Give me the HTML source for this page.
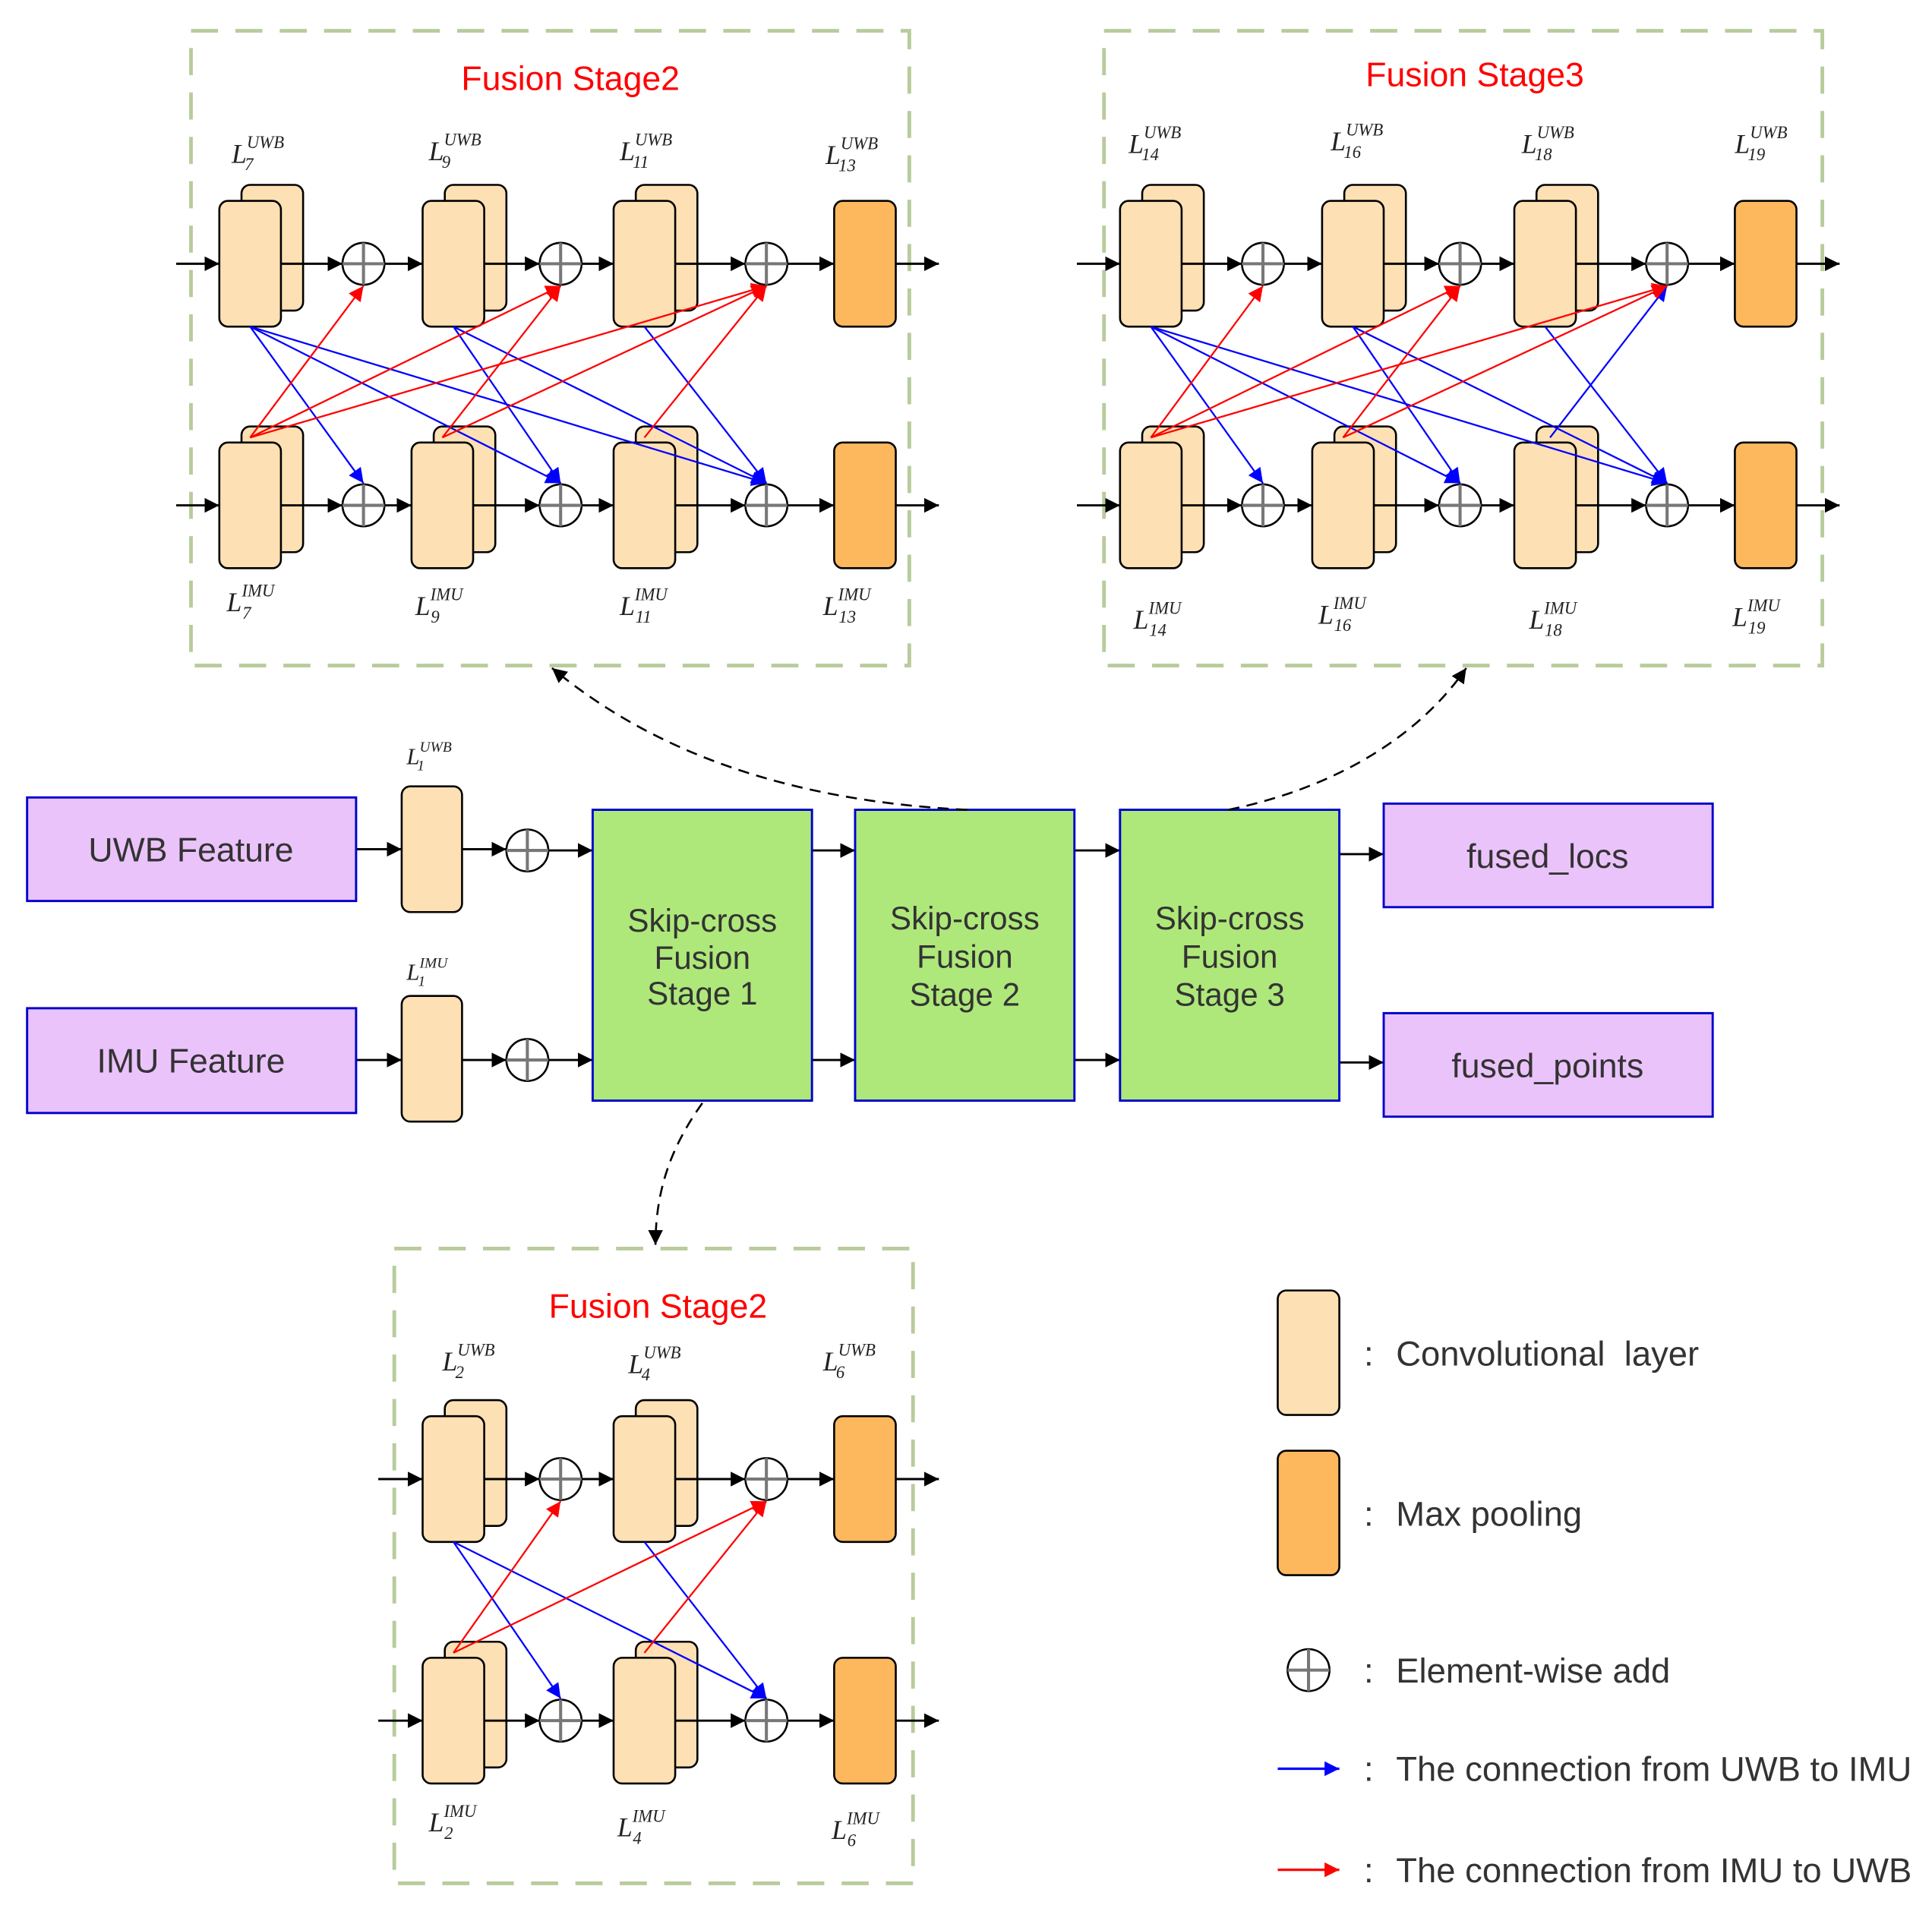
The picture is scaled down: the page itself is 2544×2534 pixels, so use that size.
<!DOCTYPE html>
<html><head><meta charset="utf-8"><style>
html,body{margin:0;padding:0;background:#fff;}
svg{display:block;}
text{font-family:"Liberation Sans",sans-serif;}
.L{font-family:"Liberation Serif",serif;font-style:italic;fill:#222;}
</style></head><body>
<svg width="2544" height="2534" viewBox="0 0 1568 1561" preserveAspectRatio="none" xmlns="http://www.w3.org/2000/svg">
<defs>
<marker id="mk" viewBox="0 0 10 10" refX="10" refY="5" markerWidth="12" markerHeight="14" markerUnits="userSpaceOnUse" orient="auto"><path d="M0,0L10,5L0,10z" fill="#000"/></marker>
<marker id="mb" viewBox="0 0 10 10" refX="10" refY="5" markerWidth="14" markerHeight="12" markerUnits="userSpaceOnUse" orient="auto"><path d="M0,0L10,5L0,10z" fill="#00f"/></marker>
<marker id="mr" viewBox="0 0 10 10" refX="10" refY="5" markerWidth="14" markerHeight="12" markerUnits="userSpaceOnUse" orient="auto"><path d="M0,0L10,5L0,10z" fill="#f00"/></marker>
<g id="conv"><rect x="18" y="-13" width="50" height="102" rx="7" fill="#fde0b3" stroke="#000" stroke-width="1.6"/><rect x="0" y="0" width="50" height="102" rx="7" fill="#fde0b3" stroke="#000" stroke-width="1.6"/></g>
<g id="pool"><rect x="0" y="0" width="50" height="102" rx="7" fill="#fdb75d" stroke="#000" stroke-width="1.6"/></g>
<g id="plus"><circle cx="0" cy="0" r="17" fill="#fff" stroke="#000" stroke-width="1.6"/><path d="M-17,0H17M0,-17V17" stroke="#777" stroke-width="2.5"/></g>
</defs>

<g fill="none" stroke="#b8cc9c" stroke-width="3" stroke-dasharray="22,14">
<rect x="155" y="25" width="583" height="515"/>
<rect x="896" y="25" width="583" height="515"/>
<rect x="320" y="1013" width="421" height="515"/>
</g>
<text x="463" y="73" font-size="27.5" fill="#f00" text-anchor="middle">Fusion Stage2</text>
<text x="1197" y="70" font-size="27.5" fill="#f00" text-anchor="middle">Fusion Stage3</text>
<text x="534" y="1069" font-size="27.5" fill="#f00" text-anchor="middle">Fusion Stage2</text>

<!-- ===== Top-left stage ===== -->
<g stroke="#000" stroke-width="1.8" marker-end="url(#mk)">
<line x1="143" y1="214" x2="178" y2="214"/><line x1="228" y1="214" x2="278" y2="214"/><line x1="312" y1="214" x2="343" y2="214"/><line x1="393" y1="214" x2="438" y2="214"/><line x1="472" y1="214" x2="498" y2="214"/><line x1="548" y1="214" x2="605" y2="214"/><line x1="639" y1="214" x2="677" y2="214"/><line x1="727" y1="214" x2="762" y2="214"/>
<line x1="143" y1="410" x2="178" y2="410"/><line x1="228" y1="410" x2="278" y2="410"/><line x1="312" y1="410" x2="334" y2="410"/><line x1="384" y1="410" x2="438" y2="410"/><line x1="472" y1="410" x2="498" y2="410"/><line x1="548" y1="410" x2="605" y2="410"/><line x1="639" y1="410" x2="677" y2="410"/><line x1="727" y1="410" x2="762" y2="410"/>
</g>
<use href="#conv" x="178" y="163"/><use href="#conv" x="343" y="163"/><use href="#conv" x="498" y="163"/><use href="#pool" x="677" y="163"/>
<use href="#conv" x="178" y="359"/><use href="#conv" x="334" y="359"/><use href="#conv" x="498" y="359"/><use href="#pool" x="677" y="359"/>
<g stroke="#000" stroke-width="1.8"><line x1="228" y1="214" x2="246" y2="214"/><line x1="393" y1="214" x2="411" y2="214"/><line x1="548" y1="214" x2="566" y2="214"/><line x1="228" y1="410" x2="246" y2="410"/><line x1="384" y1="410" x2="402" y2="410"/><line x1="548" y1="410" x2="566" y2="410"/></g>
<use href="#plus" x="295" y="214"/><use href="#plus" x="455" y="214"/><use href="#plus" x="622" y="214"/>
<use href="#plus" x="295" y="410"/><use href="#plus" x="455" y="410"/><use href="#plus" x="622" y="410"/>
<g stroke="#00f" stroke-width="1.4" marker-end="url(#mb)">
<line x1="203" y1="265" x2="295" y2="392"/><line x1="203" y1="265" x2="455" y2="392"/><line x1="203" y1="265" x2="622" y2="392"/>
<line x1="368" y1="265" x2="455" y2="392"/><line x1="368" y1="265" x2="622" y2="392"/><line x1="523" y1="265" x2="622" y2="392"/>
</g>
<g stroke="#f00" stroke-width="1.4" marker-end="url(#mr)">
<line x1="203" y1="355" x2="295" y2="232"/><line x1="203" y1="355" x2="455" y2="232"/><line x1="203" y1="355" x2="622" y2="232"/>
<line x1="359" y1="355" x2="455" y2="232"/><line x1="359" y1="355" x2="622" y2="232"/><line x1="523" y1="355" x2="622" y2="232"/>
</g>

<!-- ===== Top-right stage ===== -->
<g stroke="#000" stroke-width="1.8" marker-end="url(#mk)">
<line x1="874" y1="214" x2="909" y2="214"/><line x1="959" y1="214" x2="1008" y2="214"/><line x1="1042" y1="214" x2="1073" y2="214"/><line x1="1123" y1="214" x2="1168" y2="214"/><line x1="1202" y1="214" x2="1229" y2="214"/><line x1="1279" y1="214" x2="1336" y2="214"/><line x1="1370" y1="214" x2="1408" y2="214"/><line x1="1458" y1="214" x2="1493" y2="214"/>
<line x1="874" y1="410" x2="909" y2="410"/><line x1="959" y1="410" x2="1008" y2="410"/><line x1="1042" y1="410" x2="1065" y2="410"/><line x1="1115" y1="410" x2="1168" y2="410"/><line x1="1202" y1="410" x2="1229" y2="410"/><line x1="1279" y1="410" x2="1336" y2="410"/><line x1="1370" y1="410" x2="1408" y2="410"/><line x1="1458" y1="410" x2="1493" y2="410"/>
</g>
<use href="#conv" x="909" y="163"/><use href="#conv" x="1073" y="163"/><use href="#conv" x="1229" y="163"/><use href="#pool" x="1408" y="163"/>
<use href="#conv" x="909" y="359"/><use href="#conv" x="1065" y="359"/><use href="#conv" x="1229" y="359"/><use href="#pool" x="1408" y="359"/>
<g stroke="#000" stroke-width="1.8"><line x1="959" y1="214" x2="977" y2="214"/><line x1="1123" y1="214" x2="1141" y2="214"/><line x1="1279" y1="214" x2="1297" y2="214"/><line x1="959" y1="410" x2="977" y2="410"/><line x1="1115" y1="410" x2="1133" y2="410"/><line x1="1279" y1="410" x2="1297" y2="410"/></g>
<use href="#plus" x="1025" y="214"/><use href="#plus" x="1185" y="214"/><use href="#plus" x="1353" y="214"/>
<use href="#plus" x="1025" y="410"/><use href="#plus" x="1185" y="410"/><use href="#plus" x="1353" y="410"/>
<g stroke="#00f" stroke-width="1.4" marker-end="url(#mb)">
<line x1="934" y1="265" x2="1025" y2="392"/><line x1="934" y1="265" x2="1185" y2="392"/><line x1="934" y1="265" x2="1353" y2="392"/>
<line x1="1098" y1="265" x2="1185" y2="392"/><line x1="1098" y1="265" x2="1353" y2="392"/><line x1="1254" y1="265" x2="1353" y2="392"/>
<line x1="1258" y1="355" x2="1353" y2="232"/>
</g>
<g stroke="#f00" stroke-width="1.4" marker-end="url(#mr)">
<line x1="934" y1="355" x2="1025" y2="232"/><line x1="934" y1="355" x2="1185" y2="232"/><line x1="934" y1="355" x2="1353" y2="232"/>
<line x1="1090" y1="355" x2="1185" y2="232"/><line x1="1090" y1="355" x2="1353" y2="232"/>
</g>

<!-- ===== Bottom stage ===== -->
<g stroke="#000" stroke-width="1.8" marker-end="url(#mk)">
<line x1="307" y1="1200" x2="343" y2="1200"/><line x1="393" y1="1200" x2="438" y2="1200"/><line x1="472" y1="1200" x2="498" y2="1200"/><line x1="548" y1="1200" x2="605" y2="1200"/><line x1="639" y1="1200" x2="677" y2="1200"/><line x1="727" y1="1200" x2="762" y2="1200"/>
<line x1="307" y1="1396" x2="343" y2="1396"/><line x1="393" y1="1396" x2="438" y2="1396"/><line x1="472" y1="1396" x2="498" y2="1396"/><line x1="548" y1="1396" x2="605" y2="1396"/><line x1="639" y1="1396" x2="677" y2="1396"/><line x1="727" y1="1396" x2="762" y2="1396"/>
</g>
<use href="#conv" x="343" y="1149"/><use href="#conv" x="498" y="1149"/><use href="#pool" x="677" y="1149"/>
<use href="#conv" x="343" y="1345"/><use href="#conv" x="498" y="1345"/><use href="#pool" x="677" y="1345"/>
<g stroke="#000" stroke-width="1.8"><line x1="393" y1="1200" x2="411" y2="1200"/><line x1="548" y1="1200" x2="566" y2="1200"/><line x1="393" y1="1396" x2="411" y2="1396"/><line x1="548" y1="1396" x2="566" y2="1396"/></g>
<use href="#plus" x="455" y="1200"/><use href="#plus" x="622" y="1200"/>
<use href="#plus" x="455" y="1396"/><use href="#plus" x="622" y="1396"/>
<g stroke="#00f" stroke-width="1.4" marker-end="url(#mb)">
<line x1="368" y1="1251" x2="455" y2="1378"/><line x1="368" y1="1251" x2="622" y2="1378"/><line x1="523" y1="1251" x2="622" y2="1378"/>
</g>
<g stroke="#f00" stroke-width="1.4" marker-end="url(#mr)">
<line x1="368" y1="1341" x2="455" y2="1218"/><line x1="368" y1="1341" x2="622" y2="1218"/><line x1="523" y1="1341" x2="622" y2="1218"/>
</g>

<!-- Labels -->
<g class="L" font-size="22">
<text x="188" y="132" class="L">L<tspan font-size="14" dy="-12">UWB</tspan><tspan font-size="14" dx="-32" dy="18">7</tspan></text>
<text x="348" y="130" class="L">L<tspan font-size="14" dy="-12">UWB</tspan><tspan font-size="14" dx="-32" dy="18">9</tspan></text>
<text x="503" y="130" class="L">L<tspan font-size="14" dy="-12">UWB</tspan><tspan font-size="14" dx="-32" dy="18">11</tspan></text>
<text x="670" y="133" class="L">L<tspan font-size="14" dy="-12">UWB</tspan><tspan font-size="14" dx="-32" dy="18">13</tspan></text>
<text x="184" y="496" class="L">L<tspan font-size="14" dy="-12">IMU</tspan><tspan font-size="14" dx="-26" dy="18">7</tspan></text>
<text x="337" y="499" class="L">L<tspan font-size="14" dy="-12">IMU</tspan><tspan font-size="14" dx="-26" dy="18">9</tspan></text>
<text x="503" y="499" class="L">L<tspan font-size="14" dy="-12">IMU</tspan><tspan font-size="14" dx="-26" dy="18">11</tspan></text>
<text x="668" y="499" class="L">L<tspan font-size="14" dy="-12">IMU</tspan><tspan font-size="14" dx="-26" dy="18">13</tspan></text>
<text x="916" y="124" class="L">L<tspan font-size="14" dy="-12">UWB</tspan><tspan font-size="14" dx="-32" dy="18">14</tspan></text>
<text x="1080" y="122" class="L">L<tspan font-size="14" dy="-12">UWB</tspan><tspan font-size="14" dx="-32" dy="18">16</tspan></text>
<text x="1235" y="124" class="L">L<tspan font-size="14" dy="-12">UWB</tspan><tspan font-size="14" dx="-32" dy="18">18</tspan></text>
<text x="1408" y="124" class="L">L<tspan font-size="14" dy="-12">UWB</tspan><tspan font-size="14" dx="-32" dy="18">19</tspan></text>
<text x="920" y="510" class="L">L<tspan font-size="14" dy="-12">IMU</tspan><tspan font-size="14" dx="-26" dy="18">14</tspan></text>
<text x="1070" y="506" class="L">L<tspan font-size="14" dy="-12">IMU</tspan><tspan font-size="14" dx="-26" dy="18">16</tspan></text>
<text x="1241" y="510" class="L">L<tspan font-size="14" dy="-12">IMU</tspan><tspan font-size="14" dx="-26" dy="18">18</tspan></text>
<text x="1406" y="508" class="L">L<tspan font-size="14" dy="-12">IMU</tspan><tspan font-size="14" dx="-26" dy="18">19</tspan></text>
<text x="359" y="1112" class="L">L<tspan font-size="14" dy="-12">UWB</tspan><tspan font-size="14" dx="-32" dy="18">2</tspan></text>
<text x="510" y="1114" class="L">L<tspan font-size="14" dy="-12">UWB</tspan><tspan font-size="14" dx="-32" dy="18">4</tspan></text>
<text x="668" y="1112" class="L">L<tspan font-size="14" dy="-12">UWB</tspan><tspan font-size="14" dx="-32" dy="18">6</tspan></text>
<text x="348" y="1486" class="L">L<tspan font-size="14" dy="-12">IMU</tspan><tspan font-size="14" dx="-26" dy="18">2</tspan></text>
<text x="501" y="1490" class="L">L<tspan font-size="14" dy="-12">IMU</tspan><tspan font-size="14" dx="-26" dy="18">4</tspan></text>
<text x="675" y="1492" class="L">L<tspan font-size="14" dy="-12">IMU</tspan><tspan font-size="14" dx="-26" dy="18">6</tspan></text>
<text x="330" y="620" class="L" font-size="19">L<tspan font-size="12" dy="-10">UWB</tspan><tspan font-size="12" dx="-28" dy="15">1</tspan></text>
<text x="330" y="795" class="L" font-size="19">L<tspan font-size="12" dy="-10">IMU</tspan><tspan font-size="12" dx="-24" dy="15">1</tspan></text>
</g>

<!-- ===== Middle pipeline ===== -->
<g stroke="#000" stroke-width="1.8" marker-end="url(#mk)">
<line x1="289" y1="689" x2="326" y2="689"/><line x1="375" y1="689" x2="411" y2="689"/><line x1="445" y1="690" x2="481" y2="690"/>
<line x1="289" y1="860" x2="326" y2="860"/><line x1="375" y1="860" x2="411" y2="860"/><line x1="445" y1="860" x2="481" y2="860"/>
<line x1="659" y1="690" x2="694" y2="690"/><line x1="872" y1="690" x2="909" y2="690"/>
<line x1="659" y1="860" x2="694" y2="860"/><line x1="872" y1="860" x2="909" y2="860"/>
<line x1="1087" y1="693" x2="1123" y2="693"/><line x1="1087" y1="862" x2="1123" y2="862"/>
</g>
<rect x="22" y="647" width="267" height="84" fill="#ebc3fb" stroke="#0000cc" stroke-width="1.8"/>
<rect x="22" y="818" width="267" height="85" fill="#ebc3fb" stroke="#0000cc" stroke-width="1.8"/>
<text x="155" y="699" font-size="27.5" fill="#333" text-anchor="middle">UWB Feature</text>
<text x="155" y="870" font-size="27.5" fill="#333" text-anchor="middle">IMU Feature</text>
<rect x="326" y="638" width="49" height="102" rx="7" fill="#fde0b3" stroke="#000" stroke-width="1.6"/>
<rect x="326" y="808" width="49" height="102" rx="7" fill="#fde0b3" stroke="#000" stroke-width="1.6"/>
<use href="#plus" x="428" y="690"/><use href="#plus" x="428" y="860"/>
<g fill="#aee87a" stroke="#0000cc" stroke-width="1.8">
<rect x="481" y="657" width="178" height="236"/><rect x="694" y="657" width="178" height="236"/><rect x="909" y="657" width="178" height="236"/>
</g>
<g font-size="26" fill="#333" text-anchor="middle">
<text x="570" y="756">Skip-cross</text><text x="570" y="786">Fusion</text><text x="570" y="815">Stage 1</text>
<text x="783" y="754">Skip-cross</text><text x="783" y="785">Fusion</text><text x="783" y="816">Stage 2</text>
<text x="998" y="754">Skip-cross</text><text x="998" y="785">Fusion</text><text x="998" y="816">Stage 3</text>
</g>
<rect x="1123" y="652" width="267" height="84" fill="#ebc3fb" stroke="#0000cc" stroke-width="1.8"/>
<rect x="1123" y="822" width="267" height="84" fill="#ebc3fb" stroke="#0000cc" stroke-width="1.8"/>
<text x="1256" y="704" font-size="27.5" fill="#333" text-anchor="middle">fused_locs</text>
<text x="1256" y="874" font-size="27.5" fill="#333" text-anchor="middle">fused_points</text>

<!-- dashed curves -->
<g fill="none" stroke="#000" stroke-width="1.6" stroke-dasharray="9,6" marker-end="url(#mk)">
<path d="M785,657 C640,650 530,610 448,542"/>
<path d="M997,657 C1080,640 1150,600 1190,542"/>
<path d="M570,895 C545,930 532,965 532,1010"/>
</g>

<!-- Legend -->
<rect x="1037" y="1047" width="50" height="101" rx="7" fill="#fde0b3" stroke="#000" stroke-width="1.6"/>
<rect x="1037" y="1177" width="50" height="101" rx="7" fill="#fdb75d" stroke="#000" stroke-width="1.6"/>
<use href="#plus" x="1062" y="1355"/>
<line x1="1037" y1="1435" x2="1087" y2="1435" stroke="#00f" stroke-width="2" marker-end="url(#mb)"/>
<line x1="1037" y1="1517" x2="1087" y2="1517" stroke="#f00" stroke-width="2" marker-end="url(#mr)"/>
<g font-size="28" fill="#333">
<text x="1107" y="1108">:</text><text x="1133" y="1108" xml:space="preserve">Convolutional  layer</text>
<text x="1107" y="1238">:</text><text x="1133" y="1238">Max pooling</text>
<text x="1107" y="1365">:</text><text x="1133" y="1365">Element-wise add</text>
<text x="1107" y="1445">:</text><text x="1133" y="1445">The connection from UWB to IMU</text>
<text x="1107" y="1527">:</text><text x="1133" y="1527">The connection from IMU to UWB</text>
</g>
</svg>
</body></html>
